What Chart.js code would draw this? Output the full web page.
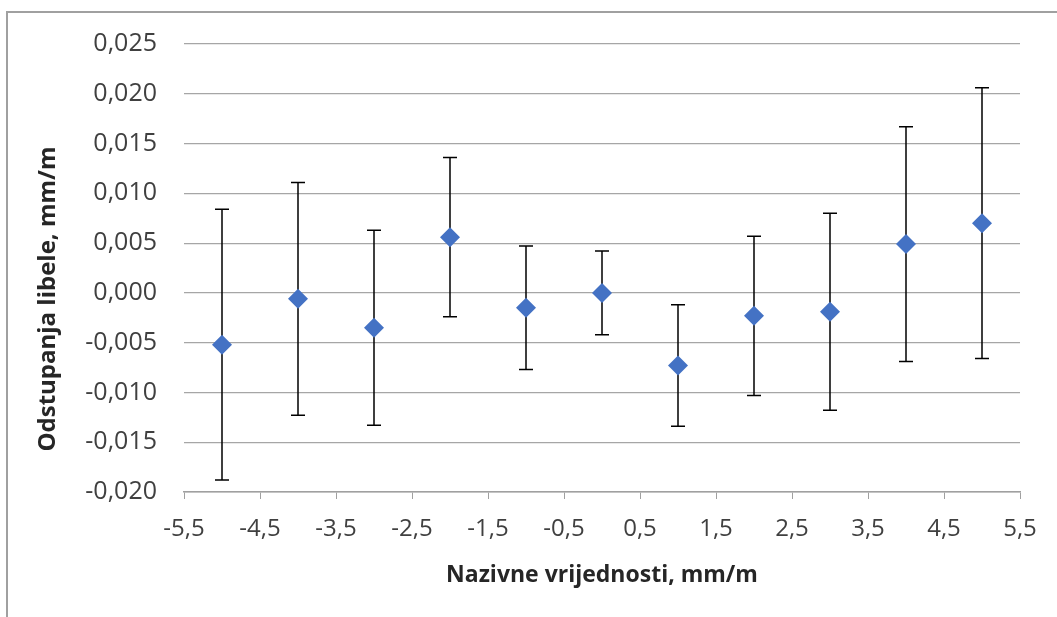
<!DOCTYPE html>
<html>
<head>
<meta charset="utf-8">
<script src="https://cdn.jsdelivr.net/npm/chart.js@4"></script>
<style>
    body { margin: 0; background: #fff; }
    #frame {
        position: absolute; left: 6px; top: 11px; right: 0; bottom: 0;
        border-top: 2px solid #a0a0a0; border-left: 2px solid #a0a0a0;
    }
    #wrap { position: absolute; left: 0; top: 0; width: 1057px; height: 617px; }
</style>
</head>
<body>
<div id="frame"></div>
<div id="wrap"><canvas id="chart"></canvas></div>
<script>
// Nazivne vrijednosti (x) and odstupanja (y) with error bar half-widths
const xValues = [-5, -4, -3, -2, -1, 0, 1, 2, 3, 4, 5];
const yValues = [-0.0052, -0.0006, -0.0035, 0.0056, -0.0015, 0.0000, -0.0073, -0.0023, -0.0019, 0.0049, 0.0070];
const yErrors = [0.0136, 0.0117, 0.0098, 0.0080, 0.0062, 0.0042, 0.0061, 0.0080, 0.0099, 0.0118, 0.0136];

const xTicks = [-5.5, -4.5, -3.5, -2.5, -1.5, -0.5, 0.5, 1.5, 2.5, 3.5, 4.5, 5.5];
const yTicks = [-0.020, -0.015, -0.010, -0.005, 0.000, 0.005, 0.010, 0.015, 0.020, 0.025];

const yTitle = 'Odstupanja libele, mm/m';

const points = xValues.map((x, i) => ({ x: x, y: yValues[i] }));

// draws vertical error bars with caps, behind the markers
const errorBars = {
    id: 'errorBars',
    beforeDatasetsDraw(chart) {
        const ctx = chart.ctx;
        const xs = chart.scales.x, ys = chart.scales.y;
        ctx.save();
        ctx.strokeStyle = '#000';
        ctx.lineWidth = 1.5;
        xValues.forEach((x, i) => {
            const px = xs.getPixelForValue(x);
            const top = ys.getPixelForValue(yValues[i] + yErrors[i]);
            const bot = ys.getPixelForValue(yValues[i] - yErrors[i]);
            ctx.beginPath();
            ctx.moveTo(px, top); ctx.lineTo(px, bot);
            ctx.moveTo(px - 7, top); ctx.lineTo(px + 7, top);
            ctx.moveTo(px - 7, bot); ctx.lineTo(px + 7, bot);
            ctx.stroke();
        });
        ctx.restore();
    }
};

// y axis title, sits a bit lower than the plot centre like the original
const yTitlePlugin = {
    id: 'yTitle',
    afterDraw(chart) {
        const ctx = chart.ctx;
        const area = chart.chartArea;
        ctx.save();
        ctx.translate(48, area.top + 255);
        ctx.rotate(-Math.PI / 2);
        ctx.textAlign = 'center';
        ctx.textBaseline = 'middle';
        ctx.fillStyle = '#262626';
        ctx.font = 'bold 24px "Open Sans"';
        ctx.fillText(yTitle, 0, 0);
        ctx.restore();
    }
};

const ctx = document.getElementById('chart').getContext('2d');
new Chart(ctx, {
    type: 'scatter',
    data: {
        datasets: [{
            data: points,
            pointStyle: 'rectRot',
            pointRadius: 10,
            pointHoverRadius: 10,
            pointBackgroundColor: '#4472C4',
            pointBorderWidth: 0,
            showLine: false
        }]
    },
    options: {
        responsive: true,
        maintainAspectRatio: false,
        animation: false,
        layout: { padding: { left: 0, top: 44, right: 37, bottom: 0 } },
        plugins: { legend: { display: false }, tooltip: { enabled: false } },
        scales: {
            x: {
                type: 'linear',
                min: -5.5,
                max: 5.5,
                afterBuildTicks: scale => { scale.ticks = xTicks.map(v => ({ value: v })); },
                afterFit: scale => { scale.height = 125; },
                grid: { drawOnChartArea: false, drawTicks: true, tickLength: 7, color: '#a0a0a0' },
                border: { display: true, color: '#a0a0a0', width: 1.5 },
                ticks: {
                    padding: 16,
                    color: '#404040',
                    font: { family: 'Open Sans', size: 24 },
                    maxRotation: 0,
                    autoSkip: false,
                    callback: v => v.toFixed(1).replace('.', ',')
                },
                title: {
                    display: true,
                    text: 'Nazivne vrijednosti, mm/m',
                    color: '#262626',
                    font: { family: 'Open Sans', size: 23, weight: 'bold' },
                    padding: { top: 0, bottom: 28 }
                }
            },
            y: {
                min: -0.020,
                max: 0.025,
                afterBuildTicks: scale => { scale.ticks = yTicks.map(v => ({ value: v })); },
                afterFit: scale => { scale.width = 184; },
                grid: { drawTicks: false, color: '#a6a6a6', lineWidth: 1.2 },
                border: { display: false },
                ticks: {
                    padding: 27,
                    color: '#404040',
                    font: { family: 'Open Sans', size: 25 },
                    autoSkip: false,
                    callback: v => v.toFixed(3).replace('.', ',')
                },
                title: { display: false }
            }
        }
    },
    plugins: [errorBars, yTitlePlugin]
});
</script>
</body>
</html>
